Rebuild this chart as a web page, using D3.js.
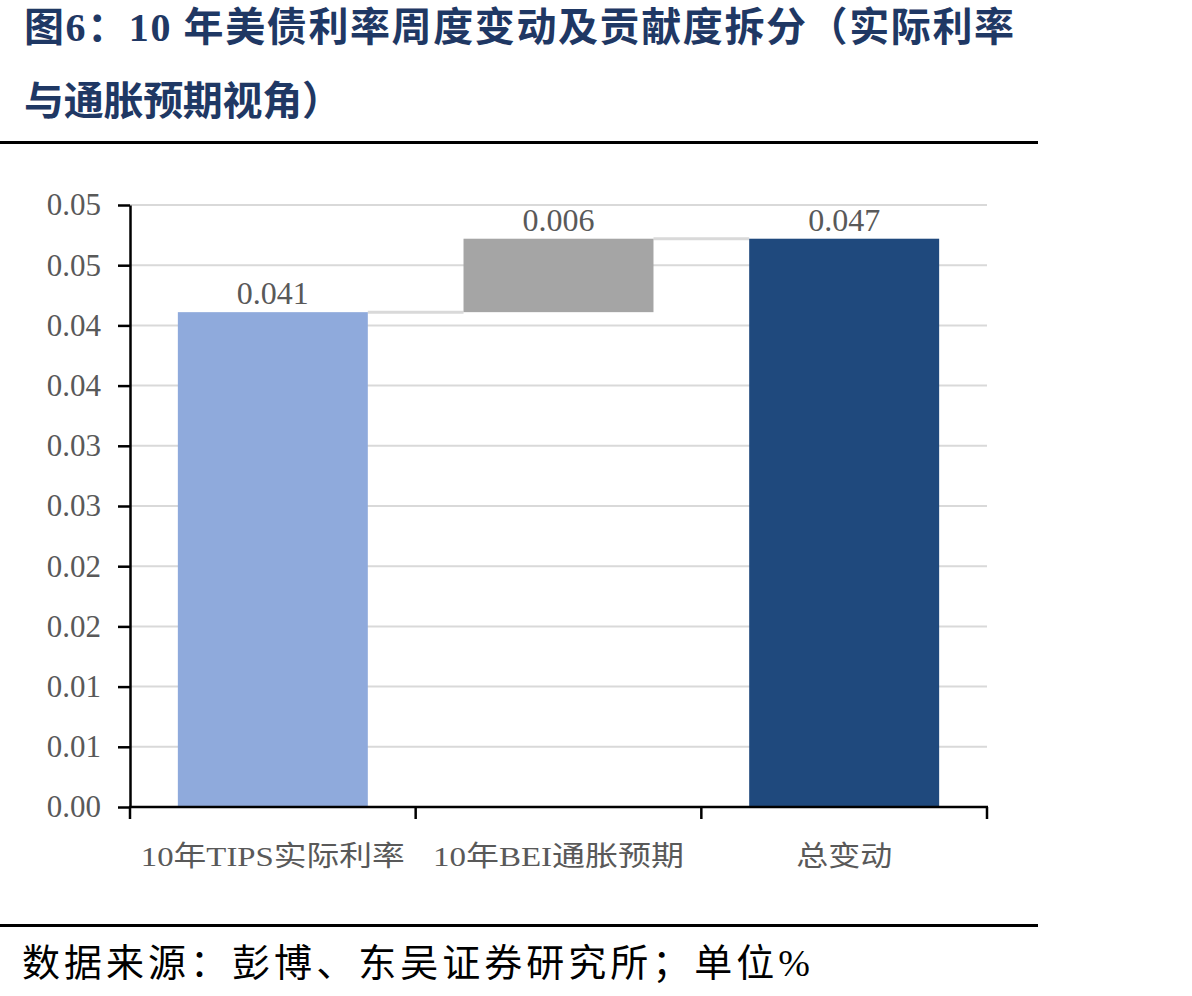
<!DOCTYPE html>
<html>
<head>
<meta charset="utf-8">
<script src="https://cdn.jsdelivr.net/npm/d3@7"></script>
<style>
  body { margin: 0; background: #fff; }
  svg { display: block; }
</style>
</head>
<body>
<svg id="chart" width="1192" height="996"></svg>
<script>
// ---data---
var categories = ["10年TIPS实际利率", "10年BEI通胀预期", "总变动"]
var changes = [0.0411, 0.0061, 0.0472]
var isTotal = [false, false, true]
var valueLabels = ["0.041", "0.006", "0.047"]
var yTickValues = [0, 0.005, 0.01, 0.015, 0.02, 0.025, 0.03, 0.035, 0.04, 0.045, 0.05]
var yTickLabels = ["0.00", "0.01", "0.01", "0.02", "0.02", "0.03", "0.03", "0.04", "0.04", "0.05", "0.05"]

var barColors = ["#8faadc", "#a5a5a5", "#1f497d"]
var labelGray = "#595959"
var serif = "'Liberation Serif', 'Times New Roman', 'Noto Sans CJK SC', serif"

var svg = d3.select("#chart")

//---title---
var titleG = svg.append("g")
  .attr("fill", "#1f3864")
  .attr("font-family", serif)
  .attr("font-weight", "bold")
  .attr("font-size", "40px")
titleG.append("text").attr("x", 24).attr("y", 41)
  .attr("textLength", 990).attr("lengthAdjust", "spacing")
  .text("图6：10 年美债利率周度变动及贡献度拆分（实际利率")
titleG.append("text").attr("x", 24).attr("y", 115)
  .attr("textLength", 318).attr("lengthAdjust", "spacing")
  .text("与通胀预期视角）")

svg.append("line").attr("x1", 0).attr("x2", 1038).attr("y1", 142.5).attr("y2", 142.5)
  .attr("stroke", "#000").attr("stroke-width", 3)
svg.append("line").attr("x1", 0).attr("x2", 1038).attr("y1", 925.5).attr("y2", 925.5)
  .attr("stroke", "#000").attr("stroke-width", 3)

svg.append("text").attr("x", 22).attr("y", 976)
  .attr("font-family", serif).attr("font-size", "38px").attr("fill", "#000")
  .attr("textLength", 788).attr("lengthAdjust", "spacing")
  .text("数据来源：彭博、东吴证券研究所；单位%")

//---scales---
var plotLeft = 130, plotRight = 987, plotTop = 205, plotBottom = 807

var x = d3.scaleBand().domain(categories).range([plotLeft, plotRight])
  .paddingInner(0.335).paddingOuter(0.1675)
var y = d3.scaleLinear().domain([0, 0.05]).range([plotBottom, plotTop])

//---gridlines---
svg.append("g")
  .selectAll("line").data(yTickValues.slice(1)).enter().append("line")
  .attr("x1", plotLeft).attr("x2", plotRight)
  .attr("y1", function(d) { return y(d) }).attr("y2", function(d) { return y(d) })
  .attr("stroke", "#d9d9d9").attr("stroke-width", 2)

//---waterfall bases---
var bars = []
var running = 0
for (var i = 0; i < categories.length; i++) {
  var lo = isTotal[i] ? 0 : running
  var hi = isTotal[i] ? changes[i] : running + changes[i]
  if (!isTotal[i]) running += changes[i]
  bars.push({ cat: categories[i], lo: lo, hi: hi, label: valueLabels[i], color: barColors[i] })
}

//---connector lines---
for (var k = 0; k < bars.length - 1; k++) {
  svg.append("line")
    .attr("x1", x(bars[k].cat) + x.bandwidth())
    .attr("x2", x(bars[k + 1].cat))
    .attr("y1", y(bars[k].hi)).attr("y2", y(bars[k].hi))
    .attr("stroke", "#d9d9d9").attr("stroke-width", 3)
}

svg.append("g").selectAll("rect").data(bars).enter().append("rect")
  .attr("x", function(d) { return x(d.cat) })
  .attr("width", x.bandwidth())
  .attr("y", function(d) { return y(d.hi) })
  .attr("height", function(d) { return y(d.lo) - y(d.hi) })
  .attr("fill", function(d) { return d.color })

svg.append("g").selectAll("text").data(bars).enter().append("text")
  .attr("x", function(d) { return x(d.cat) + x.bandwidth() / 2 })
  .attr("y", function(d) { return y(d.hi) - 8 })
  .attr("text-anchor", "middle")
  .attr("font-family", serif).attr("font-size", "32px").attr("fill", labelGray)
  .text(function(d) { return d.label })

//---y axis---
var yAxis = svg.append("g")
  .attr("transform", "translate(" + plotLeft + ",0)")
  .call(d3.axisLeft(y).tickValues(yTickValues)
    .tickFormat(function(d, i) { return yTickLabels[i] })
    .tickSize(12).tickSizeOuter(0).tickPadding(17))
yAxis.select(".domain").attr("stroke", "#000").attr("stroke-width", 2.5)
yAxis.selectAll(".tick line").attr("stroke", "#000").attr("stroke-width", 2.5)
yAxis.selectAll(".tick text")
  .attr("font-family", serif).attr("font-size", "31px").attr("fill", labelGray)

//---x axis---
var xAxisG = svg.append("g")
xAxisG.append("line").attr("x1", plotLeft - 1).attr("x2", plotRight + 1)
  .attr("y1", plotBottom).attr("y2", plotBottom)
  .attr("stroke", "#000").attr("stroke-width", 2.5)
var edges = [plotLeft].concat(categories.map(function(c) { return x(c) + x.bandwidth() + (x.step() - x.bandwidth()) / 2 }))
xAxisG.selectAll(".xt").data(edges).enter().append("line")
  .attr("x1", function(d) { return d }).attr("x2", function(d) { return d })
  .attr("y1", plotBottom).attr("y2", plotBottom + 12)
  .attr("stroke", "#000").attr("stroke-width", 2.5)

var xLabelWidths = [264, 251, 96]
xAxisG.selectAll(".xl").data(categories).enter().append("text")
  .attr("x", function(d) { return x(d) + x.bandwidth() / 2 })
  .attr("y", 866)
  .attr("text-anchor", "middle")
  .attr("font-family", serif).attr("font-size", "28px").attr("fill", labelGray)
  .attr("textLength", function(d, i) { return xLabelWidths[i] })
  .attr("lengthAdjust", "spacingAndGlyphs")
  .text(function(d) { return d })
</script>
</body>
</html>
